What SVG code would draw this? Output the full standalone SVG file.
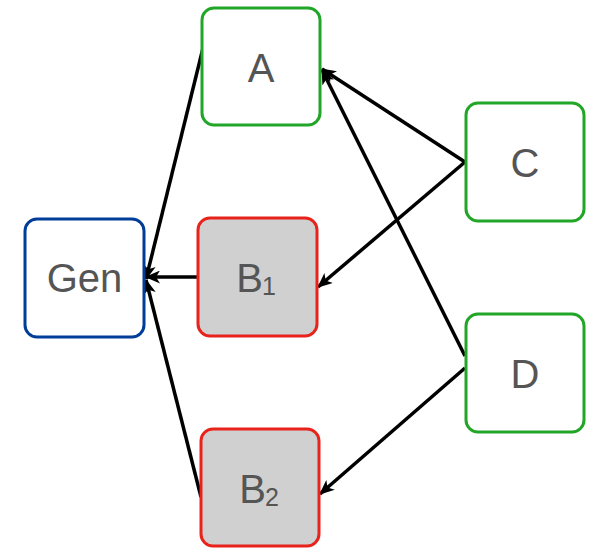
<svg xmlns="http://www.w3.org/2000/svg" width="596" height="555" viewBox="0 0 596 555">
<style>
.node rect{stroke-width:3}
.g rect{fill:#fff;stroke:#22a628}
.r rect{fill:#d0d0d0;stroke:#e8231c}
.b rect{fill:#fff;stroke:#003d99}
text{font-family:"Liberation Sans",Arial,sans-serif;font-size:40px;fill:#555;text-anchor:middle}
.sub{font-size:25px}
.edges line{stroke:#000;stroke-width:3.5}
</style>
<defs>
<marker id="ah" markerUnits="userSpaceOnUse" viewBox="0 0 15 13" refX="14" refY="6.5" markerWidth="15" markerHeight="13" orient="auto">
<path d="M0,0 L15,6.5 L0,13 L4,6.5 Z" fill="#000"/>
</marker>
</defs>
<rect width="596" height="555" fill="#fff"/>
<g class="edges">
<line x1="203" y1="48" x2="146" y2="279" marker-end="url(#ah)"/>
<line x1="199" y1="277" x2="146" y2="277" marker-end="url(#ah)"/>
<line x1="201" y1="497" x2="146" y2="280" marker-end="url(#ah)"/>
<line x1="465" y1="162" x2="322" y2="69" marker-end="url(#ah)"/>
<line x1="465" y1="162" x2="318" y2="287" marker-end="url(#ah)"/>
<line x1="465" y1="356" x2="322" y2="70" marker-end="url(#ah)"/>
<line x1="465" y1="368" x2="320" y2="494" marker-end="url(#ah)"/>
</g>
<g id="A" class="node g"><rect x="202" y="8" width="118" height="117" rx="12"/><text x="261" y="82">A</text></g>
<g id="C" class="node g"><rect x="466" y="103" width="118" height="118" rx="12"/><text x="525" y="177">C</text></g>
<g id="Gen" class="node b"><rect x="25" y="219" width="119" height="118" rx="12"/><text x="84.5" y="292">Gen</text></g>
<g id="B1" class="node r"><rect x="198" y="218" width="119" height="118" rx="12"/><text x="256" y="292">B<tspan class="sub" dx="-1" dy="3">1</tspan></text></g>
<g id="D" class="node g"><rect x="466" y="314" width="118" height="118" rx="12"/><text x="525" y="388">D</text></g>
<g id="B2" class="node r"><rect x="201" y="429" width="118" height="117" rx="12"/><text x="259" y="503">B<tspan class="sub" dx="-1" dy="3">2</tspan></text></g>
</svg>
